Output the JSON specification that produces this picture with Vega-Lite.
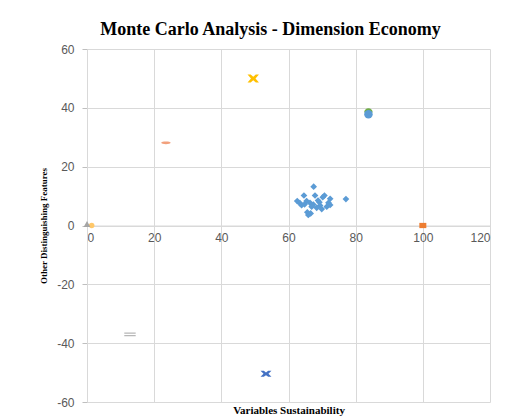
{
  "$schema": "https://vega.github.io/schema/vega-lite/v6.json",
  "autosize": {"type": "none"},
  "width": 403,
  "height": 353,
  "padding": {"left": 87, "top": 49, "right": 24, "bottom": 18},
  "background": "white",
  "title": {
    "text": "Monte Carlo Analysis - Dimension Economy",
    "font": "Liberation Serif",
    "fontSize": 18,
    "fontWeight": "bold",
    "color": "#000000",
    "anchor": "middle",
    "frame": "group",
    "dx": -18,
    "offset": 4
  },
  "config": {
    "view": {"stroke": null},
    "axis": {
      "labelFont": "Liberation Sans",
      "labelFontSize": 12,
      "labelColor": "#595959",
      "gridColor": "#d9d9d9",
      "gridWidth": 1,
      "domainColor": "#d9d9d9",
      "tickColor": "#bfbfbf",
      "titleFont": "Liberation Serif",
      "titleFontWeight": "bold",
      "titleColor": "#000000"
    }
  },
  "data": {
    "values": [
      {"series": "A", "x": 67.5, "y": 13.2},
      {"series": "A", "x": 64.6, "y": 10.2},
      {"series": "A", "x": 67.9, "y": 10.2},
      {"series": "A", "x": 70.7, "y": 10.2},
      {"series": "A", "x": 77.1, "y": 9.0},
      {"series": "A", "x": 62.6, "y": 8.3},
      {"series": "A", "x": 63.4, "y": 7.6},
      {"series": "A", "x": 65.4, "y": 8.3},
      {"series": "A", "x": 66.4, "y": 7.7},
      {"series": "A", "x": 69.2, "y": 7.9},
      {"series": "A", "x": 72.4, "y": 9.1},
      {"series": "A", "x": 71.9, "y": 7.7},
      {"series": "A", "x": 63.9, "y": 6.9},
      {"series": "A", "x": 67.4, "y": 7.1},
      {"series": "A", "x": 69.4, "y": 6.8},
      {"series": "A", "x": 71.4, "y": 6.4},
      {"series": "A", "x": 68.4, "y": 6.0},
      {"series": "A", "x": 69.9, "y": 5.6},
      {"series": "A", "x": 66.9, "y": 6.4},
      {"series": "A", "x": 65.6, "y": 4.5},
      {"series": "A", "x": 66.6, "y": 4.1},
      {"series": "A", "x": 65.9, "y": 3.6},
      {"series": "A", "x": 72.4, "y": 7.0},
      {"series": "A", "x": 64.8, "y": 7.2},
      {"series": "A", "x": 68.8, "y": 8.5},
      {"series": "A", "x": 70.2, "y": 9.6},
      {"series": "B", "x": 100, "y": 0},
      {"series": "C", "x": 0, "y": 0.5},
      {"series": "B9", "x": 1.4, "y": 0},
      {"series": "D", "x": 49.5, "y": 50},
      {"series": "E", "x": 53.3, "y": -50.4},
      {"series": "G", "x": 83.8, "y": 37.8},
      {"series": "F", "x": 83.8, "y": 38.4},
      {"series": "H", "x": 23.5, "y": 28.1},
      {"series": "I", "x": 12.8, "y": -37.0}
    ]
  },
  "mark": {"type": "point", "filled": true, "opacity": 1, "size": 45},
  "encoding": {
    "x": {
      "field": "x",
      "type": "quantitative",
      "scale": {"domain": [0, 120], "nice": false, "zero": false},
      "axis": {
        "values": [0, 20, 40, 60, 80, 100, 120],
        "offset": -176.5,
        "ticks": false,
        "labelPadding": 7,
        "grid": true,
        "title": "Variables Sustainability",
        "titleFontSize": 11,
        "titleY": 184.5,
        "titleBaseline": "middle"
      }
    },
    "y": {
      "field": "y",
      "type": "quantitative",
      "scale": {"domain": [-60, 60], "nice": false, "zero": false},
      "axis": {
        "values": [-60, -40, -20, 0, 20, 40, 60],
        "labelExpr": "'' + datum.value",
        "tickSize": 5,
        "labelPadding": 8,
        "grid": true,
        "domain": true,
        "domainColor": "#d9d9d9",
        "title": "Other Distinguishing Features",
        "titleFontSize": 9,
        "titlePadding": 8
      }
    },
    "color": {
      "field": "series",
      "type": "nominal",
      "legend": null,
      "scale": {
        "domain": ["A", "B", "B9", "C", "D", "E", "F", "G", "H", "I"],
        "range": ["#5B9BD5", "#ED7D31", "#FFC86A", "#A5A5A5", "#FFC000", "#4472C4", "#70AD47", "#5B9BD5", "#F2A07C", "#B7B7B7"]
      }
    },
    "shape": {
      "field": "series",
      "type": "nominal",
      "legend": null,
      "scale": {
        "domain": ["A", "B", "B9", "C", "D", "E", "F", "G", "H", "I"],
        "range": [
          "diamond",
          "M-1,-0.75H1V0.75H-1Z",
          "circle",
          "triangle-up",
          "M-1,-0.7L-0.45,-0.7L0,-0.3L0.45,-0.7L1,-0.7L0.4,0L1,0.7L0.45,0.7L0,0.3L-0.45,0.7L-1,0.7L-0.4,0Z",
          "M-1,-0.55L-0.4,-0.55L0,-0.25L0.4,-0.55L1,-0.55L0.45,0L1,0.55L0.4,0.55L0,0.25L-0.4,0.55L-1,0.55L-0.45,0Z",
          "M-1,0A1,1 0 0,1 1,0Z",
          "circle",
          "M-1,0C-1,-0.4 1,-0.4 1,0C1,0.4 -1,0.4 -1,0Z",
          "M-1,-0.32H1V-0.12H-1Z M-1,0.12H1V0.32H-1Z"
        ]
      }
    },
    "size": {
      "field": "series",
      "type": "nominal",
      "legend": null,
      "scale": {
        "type": "ordinal",
        "domain": ["A", "B", "B9", "C", "D", "E", "F", "G", "H", "I"],
        "range": [45, 49, 30, 45, 130, 120, 72, 72, 90, 130]
      }
    },
    "order": {"field": "series", "type": "nominal"}
  }
}
